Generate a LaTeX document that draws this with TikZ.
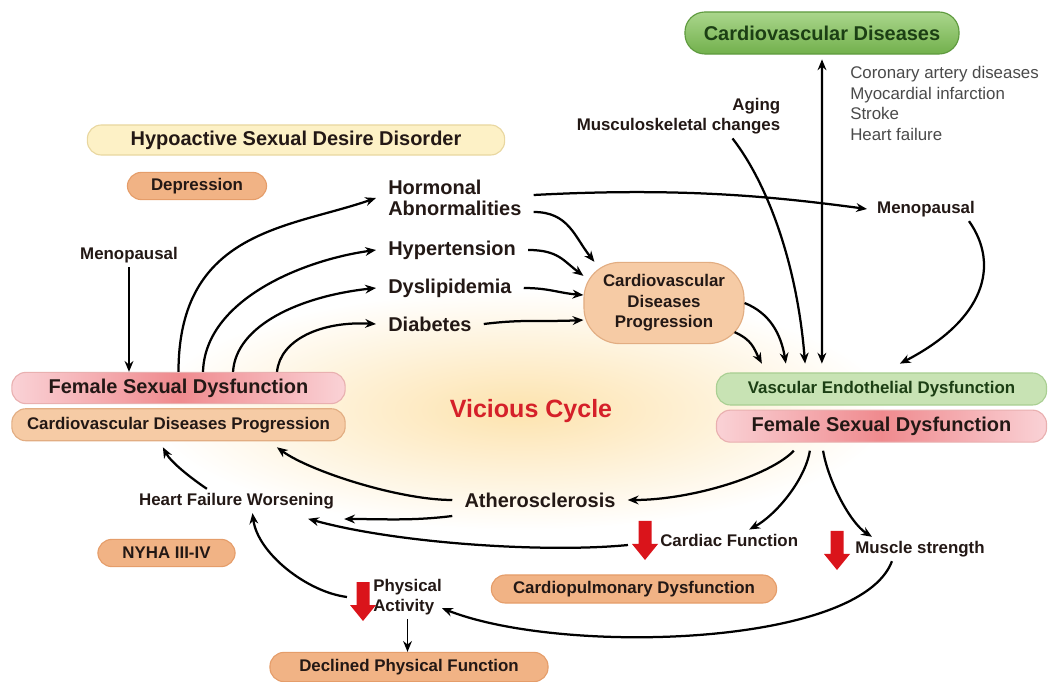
\documentclass[tikz,border=0pt]{standalone}
\usepackage{fontspec}
\setmainfont{Liberation Sans}
\usepackage{xcolor}
\usepackage{tikz}
\usetikzlibrary{arrows.meta,calc,positioning}

\definecolor{cvdgreenA}{HTML}{AAD68C}
\definecolor{cvdgreenB}{HTML}{72B04C}
\definecolor{cvdgreenD}{HTML}{5E9A3E}
\definecolor{vedgreen}{HTML}{C8E3B4}
\definecolor{vedline}{HTML}{A9CF92}
\definecolor{darkgreen}{HTML}{1C3F14}
\definecolor{fsdpink}{HTML}{FAD2D6}
\definecolor{fsdred}{HTML}{EF8A8E}
\definecolor{fsdline}{HTML}{E9B0B0}
\definecolor{tanfill}{HTML}{F6CBA5}
\definecolor{tanline}{HTML}{E2AD82}
\definecolor{orng}{HTML}{F1B385}
\definecolor{orngline}{HTML}{E59D6A}
\definecolor{cream}{HTML}{FDF1C6}
\definecolor{creamline}{HTML}{E9D7A0}
\definecolor{glow}{HTML}{FDE3AE}
\definecolor{cyclered}{HTML}{D52029}
\definecolor{arrowred}{HTML}{DA141B}
\definecolor{listgray}{HTML}{4A4A4A}
\definecolor{textdark}{HTML}{231815}

\newcommand{\fsS}{\fontsize{12}{14.6}\selectfont}
\newcommand{\fsM}{\fontsize{14.2}{15}\selectfont}
\newcommand{\fsL}{\fontsize{17.8}{20}\selectfont}

\tikzset{
  pill/.style={draw, line width=0.8pt, rounded corners=0.35cm, align=center, text=textdark, font=\bfseries\fsS, inner sep=0pt},
  lbl/.style={font=\bfseries\fsS, text=textdark, inner xsep=0.25cm, inner ysep=0.1cm, align=left},
  lblbig/.style={font=\bfseries\fsM, text=textdark, inner xsep=0.3cm, inner ysep=0.1cm, align=left},
  link/.style={->, line width=1.6pt},
  redarr/.pic={\fill[arrowred] (-6.5,0) -- (6.5,0) -- (6.5,23) -- (13,23) -- (0,39) -- (-13,23) -- (-6.5,23) -- cycle;}
}

\begin{document}
\begin{tikzpicture}[x=0.025cm, y=-0.025cm, >={Stealth[length=0.27cm, width=0.22cm]}]
\useasboundingbox (0,0) rectangle (1048,682);
\shade[inner color=glow, outer color=white] (520,410) ellipse [x radius=370, y radius=120];

\node[pill, minimum width=6.85cm, minimum height=1.05cm, top color=cvdgreenA, bottom color=cvdgreenB, draw=cvdgreenD, text=darkgreen, font=\bfseries\fsM, rounded corners=0.5cm] (cvd) at (822,33) {Cardiovascular Diseases};
\node[anchor=north west, align=left, text=listgray, font=\fsS, inner sep=0pt] (cvdlist) at (850,66) {Coronary artery diseases\\Myocardial infarction\\Stroke\\Heart failure};
\node[lbl, align=right] (aging) at (678.5,116) {Aging\\Musculoskeletal changes};

\node[pill, minimum width=10.43cm, minimum height=0.75cm, fill=cream, draw=creamline, font=\bfseries\fsM] (hsdd) at (296,140) {Hypoactive Sexual Desire Disorder};
\node[pill, minimum width=3.48cm, minimum height=0.68cm, fill=orng, draw=orngline] (dep) at (197,186) {Depression};
\node[lbl] (menL) at (129,255) {Menopausal};

\node[pill, minimum width=8.33cm, minimum height=0.78cm, left color=fsdpink, right color=fsdpink, middle color=fsdred, draw=fsdline, font=\bfseries\fsM] (fsdL) at (178.5,388) {Female Sexual Dysfunction};
\node[pill, minimum width=8.33cm, minimum height=0.8cm, fill=tanfill, draw=tanline, below=0.1cm of fsdL] (cvdpL) {Cardiovascular Diseases Progression};

\node[lblbig, anchor=west] (horm) at (376,198) {Hormonal\\Abnormalities};
\node[lblbig, anchor=west] (hyp) at (376,250) {Hypertension};
\node[lblbig, anchor=west] (dys) at (376,288) {Dyslipidemia};
\node[lblbig, anchor=west] (dia) at (376,324) {Diabetes};

\node[pill, minimum width=4cm, minimum height=2.03cm, rounded corners=0.9cm, fill=tanfill, draw=tanline] (cvdp) at (664,303) {Cardiovascular\\Diseases\\Progression};
\node[lbl] (menR) at (926,209) {Menopausal};

\node[pill, minimum width=8.25cm, minimum height=0.8cm, fill=vedgreen, draw=vedline, text=darkgreen] (ved) at (881.5,389) {Vascular Endothelial Dysfunction};
\node[pill, minimum width=8.25cm, minimum height=0.8cm, left color=fsdpink, right color=fsdpink, middle color=fsdred, draw=fsdline, font=\bfseries\fsM, below=0.1cm of ved] (fsdR) {Female Sexual Dysfunction};

\node[font=\bfseries\fsL, text=cyclered] (cycle) at (531,411) {Vicious Cycle};
\node[lblbig] (ath) at (540,500) {Atherosclerosis};
\node[lbl] (hfw) at (236.5,501) {Heart Failure Worsening};
\node[pill, minimum width=3.43cm, minimum height=0.68cm, fill=orng, draw=orngline] (nyha) at (166.5,553) {NYHA III-IV};

\pic at (645,521) {redarr};
\node[lbl, anchor=west] (card) at (650,540) {Cardiac Function};
\pic at (837,531) {redarr};
\node[lbl, anchor=west] (musc) at (845,549) {Muscle strength};
\node[pill, minimum width=7.13cm, minimum height=0.7cm, fill=orng, draw=orngline] (cpd) at (634,589) {Cardiopulmonary Dysfunction};
\pic at (363,582) {redarr};
\node[lbl, anchor=west] (phys) at (363,597) {Physical\\Activity};
\node[pill, minimum width=6.95cm, minimum height=0.73cm, fill=orng, draw=orngline] (decl) at (409,667) {Declined Physical Function};

\draw[link] (menL) -- (menL |- fsdL.north);
\draw[link] (fsdL.north) .. controls +(0,-142) and +(-86,30) .. (horm.west);
\draw[link] ([xshift=0.6125cm]fsdL.north) .. controls +(2,-72) and +(-73,10) .. (hyp.west);
\draw[link] ([xshift=1.3625cm]fsdL.north) .. controls +(3,-47) and +(-75,8) .. (dys.west);
\draw[link] ([xshift=2.4625cm]fsdL.north) .. controls +(3,-32) and +(-55,-3) .. (dia.west);

\draw[link] ([yshift=0.075cm]horm.east) .. controls +(150,-8) and +(-90,-12) .. (menR.west);
\draw[link] ([yshift=-0.35cm]horm.east) .. controls +(35,0) and +(-20,-25) .. ([xshift=0.275cm]cvdp.north west);
\draw[link] (hyp.east) .. controls +(30,0) and +(-20,-15) .. ([yshift=-0.35cm]cvdp.north west);
\draw[link] (dys.east) .. controls +(25,0) and +(-25,-2) .. ([yshift=0.2cm]cvdp.west);
\draw[link] (dia.east) .. controls +(40,-5) and +(-40,2) .. ([yshift=-0.425cm]cvdp.west);

\draw[link] ([xshift=-0.25cm,yshift=0.3cm]cvdp.south east) .. controls +(18,8) and +(-8,-15) .. ([xshift=-2.99cm,yshift=0.22cm]ved.north);
\draw[link] (cvdp.east) .. controls +(25,10) and +(-5,-30) .. ([xshift=-2.39cm,yshift=0.22cm]ved.north);
\draw[link] ([xshift=1.35cm]aging.south) .. controls +(35,45) and +(-8,-100) .. ([xshift=-1.91cm,yshift=0.22cm]ved.north);
\draw[link, <->] ([yshift=-0.12cm]cvd.south) -- ([xshift=-1.49cm,yshift=0.22cm]ved.north);
\draw[link] ([xshift=1.075cm]menR.south) .. controls +(31,44) and +(85,-44) .. ([xshift=0.46cm,yshift=0.22cm]ved.north);

\draw[link] ([xshift=-2.19cm,yshift=-0.2cm]fsdR.south) .. controls +(-24,25) and +(64,0) .. (ath.east);
\draw[link] ([xshift=-1.79cm,yshift=-0.2cm]fsdR.south) .. controls +(-5,30) and +(26,-14) .. ([xshift=0.5cm]card.north);
\draw[link] ([xshift=-1.46cm,yshift=-0.2cm]fsdR.south) .. controls +(5,30) and +(-22,-14) .. ([xshift=-1.2cm]musc.north);

\draw[link] (ath.west) .. controls +(-53,0) and +(33,24) .. ([xshift=2.46cm,yshift=-0.15cm]cvdpL.south);
\draw[link] ([yshift=-0.4cm]ath.west) .. controls +(-40,5) and +(40,0) .. ([yshift=-0.45cm]hfw.east);
\draw[link] ([xshift=-0.74cm]hfw.north) .. controls +(-15,-10) and +(8,15) .. ([xshift=-0.39cm,yshift=-0.15cm]cvdpL.south);
\draw[link] ([xshift=-0.55cm,yshift=-0.125cm]card.west) .. controls +(-80,8) and +(90,25) .. ([xshift=1.79cm,yshift=-0.14cm]hfw.south);
\draw[link] ([xshift=-0.4cm]phys.west) .. controls +(-40,-5) and +(5,40) .. ([xshift=0.4cm]hfw.south);
\draw[link] ([xshift=-0.7cm]musc.south) .. controls +(-32,86) and +(119,47) .. ([xshift=-0.25cm,yshift=-0.28cm]phys.east);
\draw[link, line width=1.1pt] (phys.south) -- (phys.south |- decl.north);
\end{tikzpicture}
\end{document}
